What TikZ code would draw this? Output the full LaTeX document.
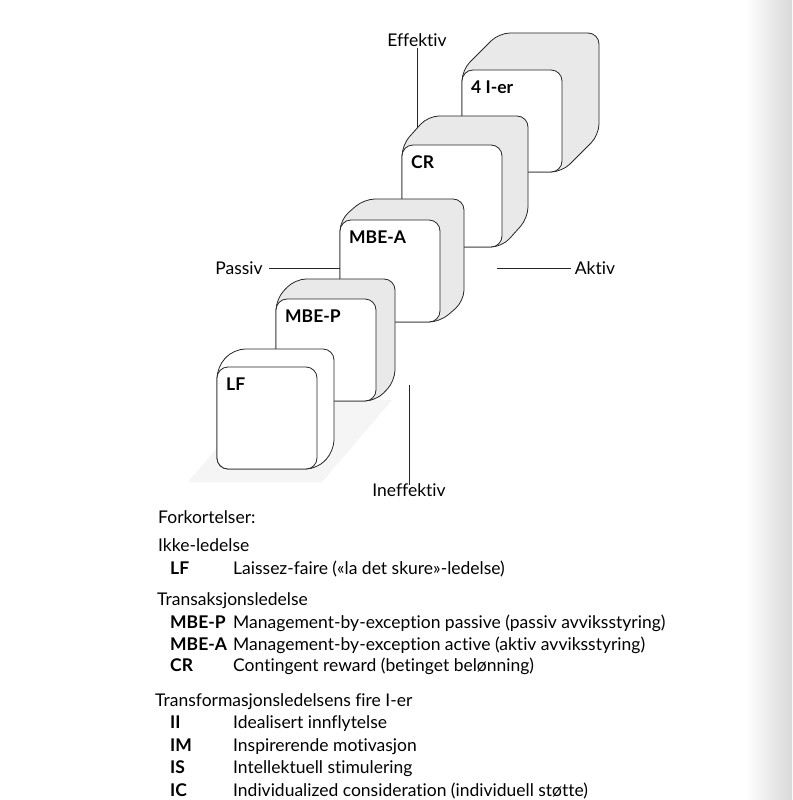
\documentclass[tikz,border=0pt]{standalone}
\usepackage{fontspec}
\setmainfont{Lato}[Ligatures={NoCommon}]
\tikzset{
  frontface/.style={draw=black!85, fill=white, rounded corners=11pt, minimum width=100pt, minimum height=102pt, inner sep=0pt, line width=0.8pt},
  sideface/.style={draw=black!85, rounded corners=11pt, line width=0.8pt},
  blocktxt/.style={anchor=base west, inner sep=0pt, font=\fontsize{17.5}{20}\selectfont\bfseries},
  axtxt/.style={inner sep=1pt, font=\fontsize{17.5}{20}\selectfont},
  axline/.style={draw=black!85, line width=0.8pt},
  legtxt/.style={anchor=base west, inner sep=0pt, font=\fontsize{17.5}{20}\selectfont},
  abtxt/.style={legtxt, font=\fontsize{17.5}{20}\selectfont\bfseries}
}
% name, x, y (front top left), depth x, depth y, side colour, label
\newcommand{\ledblock}[7]{%
  \filldraw[sideface, fill=#6] (#2,#3+102) -- (#2,#3) -- (#2+#4,#3-#5) -- (#2+100+#4,#3-#5) -- (#2+100+#4,#3+102-#5) -- (#2+100,#3+102) -- cycle;
  \node[frontface] (#1) at (#2+50,#3+51) {};
  \node[blocktxt] (#1-txt) at (#2+9,#3+23) {#7};
}
\begin{document}
\begin{tikzpicture}[x=1pt,y=-1pt]
  \useasboundingbox (0,0) rectangle (792,800);
  \fill[white] (0,0) rectangle (792,800);
  \shade[left color=white, right color=gray!30] (745,0) rectangle (792,800);

  % floor shadow
  \fill[gray!8] (188,482) -- (322,482) -- (392,400) -- (258,400) -- cycle;

  % axes
  \node[axtxt] (eff) at (417,40) {Effektiv};
  \coordinate (eff-end) at (417,150);
  \draw[axline] (eff.south) -- (eff-end);
  \node[axtxt] (ineff) at (409,490) {Ineffektiv};
  \coordinate (ineff-top) at (409,385);
  \draw[axline] (ineff-top) -- ([yshift=-3pt]ineff.north);
  \node[axtxt] (akt) at (595,268) {Aktiv};
  \coordinate (akt-end) at (497,268);
  \draw[axline] (akt-end) -- ([xshift=-3pt]akt.west);

  % blocks, back to front
  \ledblock{ier}{462}{70}{37}{37}{gray!17}{4 I-er}
  \ledblock{cr}{402}{145}{26}{29}{gray!17}{CR}
  \ledblock{mbea}{340}{220}{24}{21}{gray!17}{MBE-A}
  \node[axtxt] (pas) at (239,268) {Passiv};
  \draw[axline] ([xshift=5pt]pas.east) -- (pas.east -| mbea.west);
  \ledblock{mbep}{276}{299}{19}{20}{gray!17}{MBE-P}
  \ledblock{lf}{217}{367}{17}{18}{white}{LF}

  % legend
  \node[legtxt] (hd-fork) at (158,523) {Forkortelser:};
  \node[legtxt] (hd-ikke) at (158,551) {Ikke-ledelse};
  \node[legtxt] (hd-trans) at (157,605) {Transaksjonsledelse};
  \node[legtxt] (hd-form) at (155,706) {Transformasjonsledelsens fire I-er};
  \foreach \ab/\ds/\yb [count=\i] in {
      LF/{Laissez-faire («la det skure»-ledelse)}/574,
      MBE-P/{Management-by-exception passive (passiv avviksstyring)}/628,
      MBE-A/{Management-by-exception active (aktiv avviksstyring)}/650,
      CR/{Contingent reward (betinget belønning)}/671,
      II/{Idealisert innflytelse}/728,
      IM/{Inspirerende motivasjon}/751,
      IS/{Intellektuell stimulering}/773,
      IC/{Individualized consideration (individuell støtte)}/796}
  {
    \node[abtxt] (ab\i) at (170,\yb) {\ab};
    \node[legtxt] (ds\i) at (233,\yb) {\ds};
  }
\end{tikzpicture}
\end{document}
